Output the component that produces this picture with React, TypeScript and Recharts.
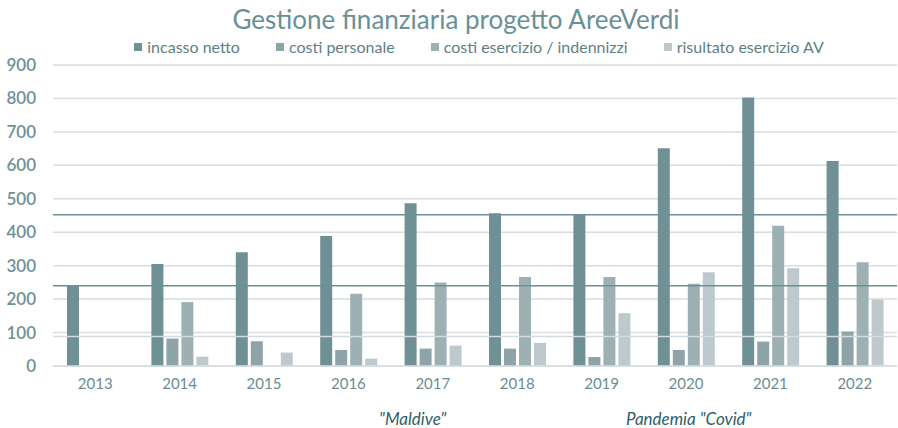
import { BarChart, Bar, XAxis, YAxis, CartesianGrid, ReferenceLine } from "recharts";

const years = ["2013", "2014", "2015", "2016", "2017", "2018", "2019", "2020", "2021", "2022"];
const incassoNetto = [240, 305, 340, 389, 487, 457, 452, 651, 803, 613];
const costiPersonale = [0, 82, 74, 48, 52, 52, 27, 48, 73, 103];
const costiEsercizio = [0, 191, 0, 216, 250, 266, 266, 246, 419, 310];
const risultatoAV = [0, 28, 40, 22, 61, 69, 158, 280, 292, 199];
const yTicks = [0, 100, 200, 300, 400, 500, 600, 700, 800, 900];
const refLevels = [452, 240];
const lightLevel = 88;

const series = [
  { key: "incasso", name: "incasso netto", color: "#6f9196" },
  { key: "personale", name: "costi personale", color: "#8fa4a9" },
  { key: "esercizio", name: "costi esercizio / indennizzi", color: "#9db1b5" },
  { key: "risultato", name: "risultato esercizio AV", color: "#bdc9cc" },
];

const data = years.map((year, i) => ({
  year,
  incasso: incassoNetto[i],
  personale: costiPersonale[i],
  esercizio: costiEsercizio[i],
  risultato: risultatoAV[i],
}));

const font = "Lato, 'Open Sans', sans-serif";

export default function App() {
  return (
    <div style={{ position: "relative", width: 898, height: 428, background: "#fff" }}>
      <style>{"body{margin:0}"}</style>
      <div style={{ position: "absolute", top: 3, left: 0, width: 912, textAlign: "center", fontFamily: font, fontSize: 26, color: "#6a9096" }}>
        Gestione finanziaria progetto AreeVerdi
      </div>
      <div style={{ position: "absolute", top: 37, left: 0, width: 898, paddingLeft: 60, boxSizing: "border-box", display: "flex", justifyContent: "center", gap: 36, fontFamily: font, fontSize: 16, color: "#5f8086" }}>
        {series.map((s) => (
          <span key={s.key} style={{ display: "flex", alignItems: "center" }}>
            <span style={{ width: 8, height: 8, background: s.color, marginRight: 5, display: "inline-block" }} />
            {s.name}
          </span>
        ))}
      </div>
      <BarChart width={898} height={428} data={data} margin={{ top: 65, right: 1, left: 0, bottom: 32 }} barSize={12} barGap={3}>
        <CartesianGrid vertical={false} stroke="#d6dee1" strokeWidth={1.5} />
        <XAxis dataKey="year" axisLine={{ stroke: "#d6dee1", strokeWidth: 1.5 }} tickLine={false} tickMargin={6}
          tick={{ fill: "#6d8c92", fontSize: 15, fontFamily: font }} />
        <YAxis width={53} domain={[0, 900]} ticks={yTicks} axisLine={false} tickLine={false} tickMargin={11}
          tick={{ fill: "#6f9097", fontSize: 17, fontFamily: font, fontWeight: 600 }} />
        {series.map((s) => (
          <Bar key={s.key} dataKey={s.key} name={s.name} fill={s.color} isAnimationActive={false} />
        ))}
        {refLevels.map((v) => (
          <ReferenceLine key={v} y={v} stroke="#6b9095" strokeWidth={1.5} />
        ))}
        <ReferenceLine y={lightLevel} stroke="#d3dcde" strokeWidth={1.5} />
      </BarChart>
      <div style={{ position: "absolute", top: 408, left: 379, fontFamily: font, fontSize: 17, fontStyle: "italic", color: "#2f6068" }}>
        "Maldive"
      </div>
      <div style={{ position: "absolute", top: 408, left: 626, fontFamily: font, fontSize: 17, fontStyle: "italic", color: "#2f6068" }}>
        Pandemia "Covid"
      </div>
    </div>
  );
}
